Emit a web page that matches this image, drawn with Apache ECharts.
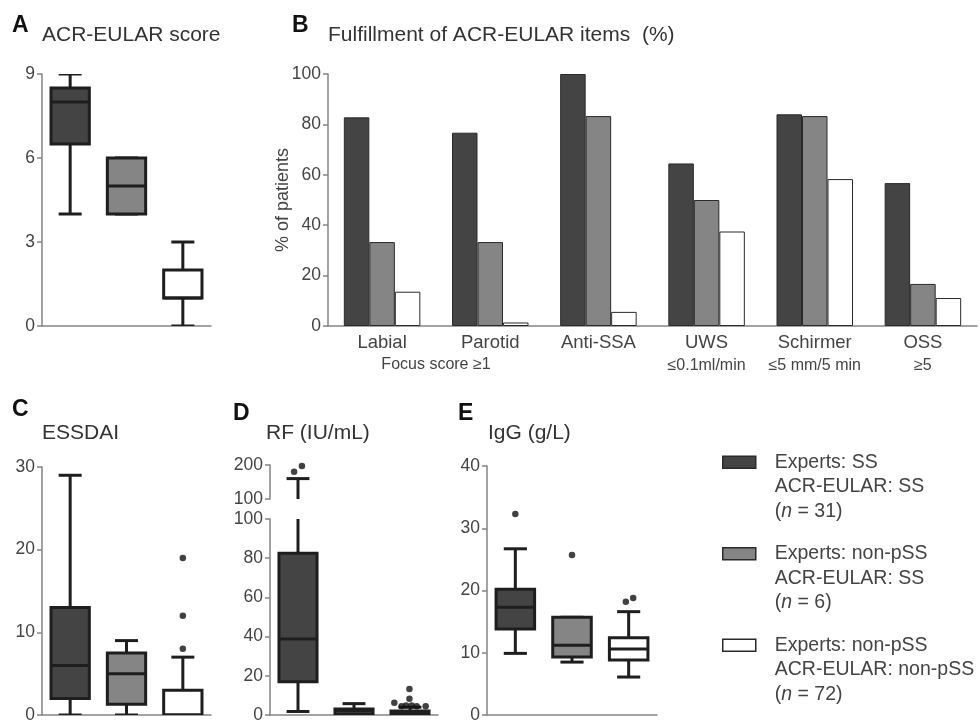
<!DOCTYPE html>
<html>
<head>
<meta charset="utf-8">
<title>ACR-EULAR classification</title>
<style>
html, body { margin: 0; padding: 0; background: #fff; }
#main { width: 980px; height: 724px; }
</style>
<script src="https://cdn.jsdelivr.net/npm/echarts@6/dist/echarts.min.js"></script>
</head>
<body>
<div id="main"></div>
<script>
// patient groups (legend)
var groupExperts = ['SS', 'non-pSS', 'non-pSS'];
var groupAcr = ['SS', 'SS', 'non-pSS'];
var groupN = [31, 6, 72];

// A: ACR-EULAR score, [min, q1, median, q3, max]
var scoreAxis = [0, 9, 3];
var scoreBoxes = [[4, 6.5, 8, 8.5, 9], [4, 4, 5, 6, 6], [0, 1, 1, 2, 3]];

// B: fulfillment of items (%)
var itemLabels = ['Labial', 'Parotid', 'Anti-SSA', 'UWS', 'Schirmer', 'OSS'];
var itemSubLabels = ['', '', '', '≤0.1ml/min', '≤5 mm/5 min', '≥5'];
var sharedSubLabel = 'Focus score ≥1';
var pctAxis = [0, 100, 20];
var pctSS = [82.8, 76.7, 100, 64.5, 84, 56.7];
var pctNonSS = [33.3, 33.3, 83.3, 50, 83.3, 16.7];
var pctNonNon = [13.6, 1.4, 5.6, 37.5, 58.3, 11.1];

// C: ESSDAI
var essdaiAxis = [0, 30, 10];
var essdaiBoxes = [[0, 2, 6, 13, 29], [0, 1.3, 5, 7.5, 9], [0, 0, 0, 3, 7]];
var essdaiOutliers = [[2.5, 8], [2.5, 12], [2.5, 19]];

// D: RF (IU/mL), broken axis
var rfUpperAxis = [100, 200, 100];
var rfLowerAxis = [0, 100, 20];
var rfBoxes = [[1.8, 17, 38.8, 82.5, 160], [0, 0.5, 2, 3, 5.8], [0, 0, 1, 2, 4]];
var rfOutliers = [[0.43, 180], [0.57, 197], [2.22, 6.3], [2.49, 13.3], [2.49, 8.3],
    [2.35, 4.5], [2.43, 4.8], [2.53, 4.8], [2.62, 4.5], [2.78, 4.5]];

// E: IgG (g/L)
var iggAxis = [0, 40, 10];
var iggBoxes = [[9.9, 13.8, 17.3, 20.2, 26.7], [8.5, 9.3, 11.2, 15.7, 15.7], [6.1, 8.85, 10.6, 12.4, 16.6]];
var iggOutliers = [[0.5, 32.3], [1.5, 25.7], [2.45, 18.2], [2.58, 18.8]];

var boxFills = ['#444444', '#858585', '#ffffff'];
var axisGray = '#858585';
var inkColor = '#1e1e1e';
var font = '"Liberation Sans", Arial, sans-serif';

var legendNames = groupExperts.map(function (e, i) {
    return 'Experts: ' + e + ' / ACR-EULAR: ' + groupAcr[i];
});

function boxItem(params, api) {
    var cat = api.value(0);
    var bw = api.size([1, 0])[0] * 0.68;
    var cw = bw * 0.6;
    var x = api.coord([cat, 0])[0];
    var y = [1, 2, 3, 4, 5].map(function (d) {
        return api.coord([cat, api.value(d)])[1];
    });
    var line = { stroke: inkColor, lineWidth: 3 };
    return {
        type: 'group',
        children: [
            { type: 'line', shape: { x1: x, y1: y[0], x2: x, y2: y[1] }, style: line },
            { type: 'line', shape: { x1: x, y1: y[3], x2: x, y2: y[4] }, style: line },
            { type: 'line', shape: { x1: x - cw / 2, y1: y[0], x2: x + cw / 2, y2: y[0] }, style: line },
            { type: 'line', shape: { x1: x - cw / 2, y1: y[4], x2: x + cw / 2, y2: y[4] }, style: line },
            { type: 'rect', shape: { x: x - bw / 2, y: y[3], width: bw, height: y[1] - y[3] },
                style: { fill: boxFills[cat], stroke: inkColor, lineWidth: 3 } },
            { type: 'line', shape: { x1: x - bw / 2, y1: y[2], x2: x + bw / 2, y2: y[2] }, style: line }
        ]
    };
}

function boxSeries(boxes, xi, yi) {
    return {
        type: 'custom',
        xAxisIndex: xi,
        yAxisIndex: yi,
        clip: true,
        renderItem: boxItem,
        encode: { x: 0, y: [1, 2, 3, 4, 5] },
        data: boxes.map(function (b, i) { return [i].concat(b); }),
        silent: true
    };
}

function dotSeries(points, xi, yi) {
    return {
        type: 'scatter',
        xAxisIndex: xi,
        yAxisIndex: yi,
        symbolSize: 6.5,
        itemStyle: { color: '#111' },
        data: points,
        silent: true
    };
}

function valueAxis(grid, range) {
    return {
        type: 'value',
        gridIndex: grid,
        min: range[0],
        max: range[1],
        interval: range[2],
        axisLine: { show: true, lineStyle: { color: axisGray, width: 1.5 } },
        axisTick: { show: true, length: 5, lineStyle: { color: axisGray, width: 1.5 } },
        axisLabel: { color: '#444', fontSize: 17.5, margin: 7, fontFamily: font },
        splitLine: { show: false }
    };
}

function groupAxis(grid, showLine) {
    return {
        type: 'category',
        gridIndex: grid,
        data: legendNames,
        axisLine: { show: showLine, lineStyle: { color: axisGray, width: 1.5 } },
        axisTick: { show: false },
        axisLabel: { show: false }
    };
}

function hiddenAxis(grid) {
    return { type: 'value', gridIndex: grid, min: 0, max: 3, show: false };
}

function letter(t, x, y) {
    return { text: t, left: x, top: y, padding: 0,
        textStyle: { fontSize: 23, fontWeight: 'bold', color: '#111', fontFamily: font } };
}

function caption(t, x, y) {
    return { text: t, left: x, top: y, padding: 0,
        textStyle: { fontSize: 21, fontWeight: 'normal', color: '#333', fontFamily: font } };
}

var chart = echarts.init(document.getElementById('main'), null, { renderer: 'canvas' });

var option = {
    animation: false,
    backgroundColor: '#fff',
    textStyle: { fontFamily: font },
    title: [
        letter('A', 12, 14), caption('ACR-EULAR score', 42, 25),
        letter('B', 292, 14), caption('Fulfillment of ACR-EULAR items  (%)', 328, 25),
        letter('C', 12, 398), caption('ESSDAI', 42, 423),
        letter('D', 233, 402), caption('RF (IU/mL)', 266, 423),
        letter('E', 458, 402), caption('IgG (g/L)', 488, 423)
    ],
    legend: {
        orient: 'vertical',
        left: 722,
        top: 401,
        padding: 0,
        icon: 'rect',
        itemWidth: 33,
        itemHeight: 12,
        itemGap: -31,
        selectedMode: false,
        data: legendNames,
        formatter: function (name) {
            var i = legendNames.indexOf(name);
            return 'Experts: ' + groupExperts[i] + '\nACR-EULAR: ' + groupAcr[i] +
                '\n({i|n} = ' + groupN[i] + ')';
        },
        itemStyle: { borderColor: '#2a2a2a', borderWidth: 1.5 },
        textStyle: {
            fontSize: 19.5,
            color: '#444',
            lineHeight: 24.5,
            padding: [49, 0, 0, 14],
            rich: { i: { fontStyle: 'italic', fontSize: 19.5, color: '#444', lineHeight: 24.5 } }
        }
    },
    grid: [
        { left: 42, top: 74, width: 169, height: 252 },
        { left: 328, top: 74, width: 649, height: 252 },
        { left: 42, top: 467, width: 169, height: 252 },
        { left: 270, top: 465, width: 168, height: 34 },
        { left: 270, top: 519, width: 168, height: 200 },
        { left: 487, top: 466, width: 170, height: 253 }
    ],
    xAxis: [
        groupAxis(0, true),
        {
            type: 'category',
            gridIndex: 1,
            data: itemLabels,
            axisLine: { lineStyle: { color: axisGray, width: 1.5 } },
            axisTick: { alignWithLabel: true, length: 5, lineStyle: { color: axisGray, width: 1.5 } },
            axisLabel: {
                color: '#444',
                fontSize: 18.5,
                lineHeight: 23,
                margin: 5,
                interval: 0,
                formatter: function (v, i) {
                    return v + '\n{s|' + itemSubLabels[i] + '}';
                },
                rich: { s: { fontSize: 16, lineHeight: 23, color: '#444' } }
            }
        },
        groupAxis(2, true),
        hiddenAxis(2),
        groupAxis(3, false),
        hiddenAxis(3),
        groupAxis(4, true),
        hiddenAxis(4),
        groupAxis(5, true),
        hiddenAxis(5)
    ],
    yAxis: [
        valueAxis(0, scoreAxis),
        Object.assign(valueAxis(1, pctAxis), {
            name: '% of patients',
            nameLocation: 'middle',
            nameGap: 36,
            nameMoveOverlap: false,
            nameTextStyle: { fontSize: 18, color: '#444' }
        }),
        valueAxis(2, essdaiAxis),
        valueAxis(3, rfUpperAxis),
        valueAxis(4, rfLowerAxis),
        valueAxis(5, iggAxis)
    ],
    graphic: [
        {
            type: 'text',
            x: 436,
            y: 365,
            style: {
                text: sharedSubLabel,
                fill: '#444',
                fontSize: 16,
                fontFamily: font,
                align: 'center',
                verticalAlign: 'middle'
            }
        }
    ],
    series: [
        boxSeries(scoreBoxes, 0, 0),
        {
            type: 'bar', name: legendNames[0], xAxisIndex: 1, yAxisIndex: 1,
            data: pctSS, barWidth: 25.5, barGap: '0%',
            itemStyle: { color: boxFills[0], borderColor: '#2a2a2a', borderWidth: 1 }
        },
        {
            type: 'bar', name: legendNames[1], xAxisIndex: 1, yAxisIndex: 1,
            data: pctNonSS, barWidth: 25.5, barGap: '0%',
            itemStyle: { color: boxFills[1], borderColor: '#2a2a2a', borderWidth: 1 }
        },
        {
            type: 'bar', name: legendNames[2], xAxisIndex: 1, yAxisIndex: 1,
            data: pctNonNon, barWidth: 25.5, barGap: '0%',
            itemStyle: { color: boxFills[2], borderColor: '#2a2a2a', borderWidth: 1 }
        },
        boxSeries(essdaiBoxes, 2, 2),
        dotSeries(essdaiOutliers, 3, 2),
        boxSeries(rfBoxes, 4, 3),
        dotSeries(rfOutliers, 5, 3),
        boxSeries(rfBoxes, 6, 4),
        dotSeries(rfOutliers, 7, 4),
        boxSeries(iggBoxes, 8, 5),
        dotSeries(iggOutliers, 9, 5)
    ]
};

chart.setOption(option);
</script>
</body>
</html>
